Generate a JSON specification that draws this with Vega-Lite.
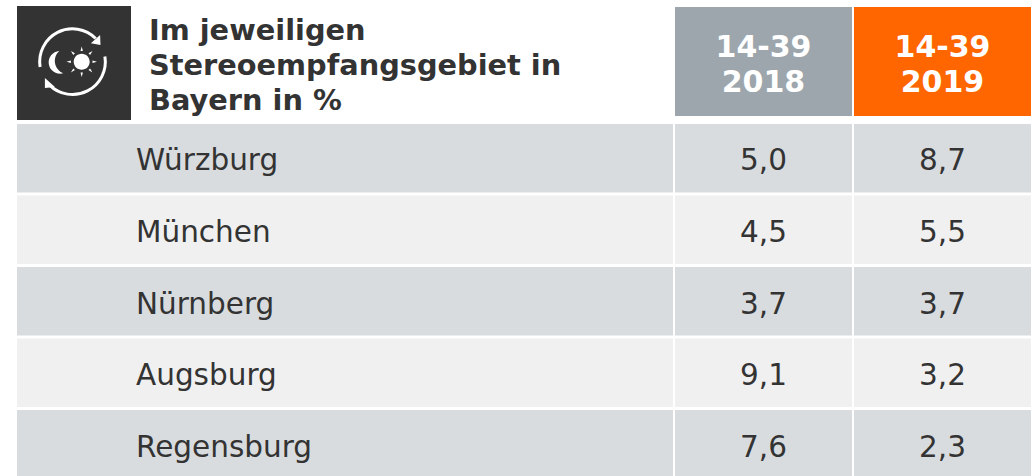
{
"$schema":"https://vega.github.io/schema/vega-lite/v6.json",
"padding":{"left":17,"top":6,"right":0,"bottom":0},
"background":"white",
"autosize":{"type":"pad"},
"config":{"view":{"stroke":null},"locale":{"number":{"decimal":",","thousands":".","grouping":[3],"currency":["","€"]}},"text":{"font":"DejaVu Sans"}},
"datasets":{
"zeilen":[
{"Stadt":"Würzburg","j2018":5.0,"j2019":8.7},
{"Stadt":"München","j2018":4.5,"j2019":5.5},
{"Stadt":"Nürnberg","j2018":3.7,"j2019":3.7},
{"Stadt":"Augsburg","j2018":9.1,"j2019":3.2},
{"Stadt":"Regensburg","j2018":7.6,"j2019":2.3}
]},
"vconcat":[
{"spacing":2,"resolve":{"scale":{"color":"independent","y":"independent"}},"hconcat":[
{"width":114,"height":114,"data":{"values":[{"Icon":"Tag und Nacht"}]},"layer":[
{"mark":{"type":"rect","color":"#333333"},"encoding":{}},
{"mark":{"type":"point","filled":false,"stroke":"white","strokeWidth":3,"size":6400,"opacity":1,"shape":"M-.81 .13 A .82 .82 0 0 1 .58 -.58 M.81 -.13 A .82 .82 0 0 1 -.58 .58","xOffset":-1.5,"yOffset":-1.3},"encoding":{}},
{"mark":{"type":"point","filled":true,"fill":"white","stroke":null,"size":6400,"opacity":1,"shape":"M.69 -.67 L.7 -.42 L.46 -.46 Z M-.69 .41 L-.69 .66 L-.44 .63 Z M-.33 -.27 A .286 .286 0 1 0 -.23 .29 A .334 .334 0 0 1 -.33 -.27 Z M.03 0 A .2 .2 0 1 0 .43 0 A .2 .2 0 1 0 .03 0 Z M.23 -.38 L.2 -.27 L.26 -.27 Z M.23 .38 L.2 .27 L.26 .27 Z M.61 0 L.5 -.03 L.5 .03 Z M-.15 0 L-.04 -.03 L-.04 .03 Z M.5 -.27 L.4 -.21 L.44 -.17 Z M-.04 -.27 L.06 -.21 L.02 -.17 Z M.5 .27 L.4 .21 L.44 .17 Z M-.04 .27 L.06 .21 L.02 .17 Z","xOffset":-1.5,"yOffset":-1.3},"encoding":{}}
]},
{"width":540,"height":114,"data":{"values":[{"Titel":"Im jeweiligen\nStereoempfangsgebiet in\nBayern in %"}]},
"mark":{"type":"text","align":"left","baseline":"middle","lineBreak":"\n","lineHeight":35,"fontSize":28.8,"fontWeight":"bold","color":"#333333","dx":-254,"dy":-32.5},
"encoding":{"text":{"field":"Titel"}}},
{"width":177,"height":114,"data":{"values":[{"Kopf":"14-39\n2018","Jahr":"2018"}]},"layer":[
{"mark":{"type":"rect"},"encoding":{"y":{"field":"Jahr","type":"nominal","axis":null,"scale":{"range":[1,110]}},"color":{"field":"Jahr","type":"nominal","legend":null,"scale":{"domain":["2018"],"range":["#9CA6AC"]}}}},
{"mark":{"type":"text","align":"center","baseline":"middle","lineBreak":"\n","lineHeight":34.5,"fontSize":30,"fontWeight":"bold","color":"white","dy":-15},"encoding":{"text":{"field":"Kopf"}}}
]},
{"width":177,"height":114,"data":{"values":[{"Kopf":"14-39\n2019","Jahr":"2019"}]},"layer":[
{"mark":{"type":"rect"},"encoding":{"y":{"field":"Jahr","type":"nominal","axis":null,"scale":{"range":[1,110]}},"color":{"field":"Jahr","type":"nominal","legend":null,"scale":{"domain":["2019"],"range":["#FF6600"]}}}},
{"mark":{"type":"text","align":"center","baseline":"middle","lineBreak":"\n","lineHeight":34.5,"fontSize":30,"fontWeight":"bold","color":"white","dy":-15},"encoding":{"text":{"field":"Kopf"}}}
]}
]},
{"spacing":2,"hconcat":[
{"width":656,"height":352,"data":{"name":"zeilen"},"resolve":{"scale":{"y":"independent"}},"layer":[
{"mark":{"type":"rect","clip":true},"encoding":{"y":{"field":"Stadt","type":"nominal","sort":null,"axis":null,"scale":{"range":[0,354.5],"paddingInner":0.04,"paddingOuter":0}},"color":{"field":"Stadt","type":"nominal","legend":null,"scale":{"domain":["Würzburg","München","Nürnberg","Augsburg","Regensburg"],"range":["#D9DCDF","#F0F0F0","#D9DCDF","#F0F0F0","#D9DCDF"]}}}},
{"mark":{"type":"text","align":"left","baseline":"middle","fontSize":29.5,"color":"#333333","dx":-209,"dy":1.5},"encoding":{"y":{"field":"Stadt","type":"nominal","sort":null,"axis":null,"scale":{"range":[0,358.1],"paddingInner":0.04,"paddingOuter":0}},"text":{"field":"Stadt"}}}
]},
{"width":177,"height":352,"data":{"name":"zeilen"},"resolve":{"scale":{"y":"independent"}},"layer":[
{"mark":{"type":"rect","clip":true},"encoding":{"y":{"field":"Stadt","type":"nominal","sort":null,"axis":null,"scale":{"range":[0,354.5],"paddingInner":0.04,"paddingOuter":0}},"color":{"field":"Stadt","type":"nominal","legend":null,"scale":{"domain":["Würzburg","München","Nürnberg","Augsburg","Regensburg"],"range":["#D9DCDF","#F0F0F0","#D9DCDF","#F0F0F0","#D9DCDF"]}}}},
{"mark":{"type":"text","align":"center","baseline":"middle","fontSize":29.5,"color":"#333333","dy":1.5},"encoding":{"y":{"field":"Stadt","type":"nominal","sort":null,"axis":null,"scale":{"range":[0,358.1],"paddingInner":0.04,"paddingOuter":0}},"text":{"field":"j2018","type":"quantitative","format":".1f"}}}
]},
{"width":177,"height":352,"data":{"name":"zeilen"},"resolve":{"scale":{"y":"independent"}},"layer":[
{"mark":{"type":"rect","clip":true},"encoding":{"y":{"field":"Stadt","type":"nominal","sort":null,"axis":null,"scale":{"range":[0,354.5],"paddingInner":0.04,"paddingOuter":0}},"color":{"field":"Stadt","type":"nominal","legend":null,"scale":{"domain":["Würzburg","München","Nürnberg","Augsburg","Regensburg"],"range":["#D9DCDF","#F0F0F0","#D9DCDF","#F0F0F0","#D9DCDF"]}}}},
{"mark":{"type":"text","align":"center","baseline":"middle","fontSize":29.5,"color":"#333333","dy":1.5},"encoding":{"y":{"field":"Stadt","type":"nominal","sort":null,"axis":null,"scale":{"range":[0,358.1],"paddingInner":0.04,"paddingOuter":0}},"text":{"field":"j2019","type":"quantitative","format":".1f"}}}
]}
]}
],
"spacing":4
}
